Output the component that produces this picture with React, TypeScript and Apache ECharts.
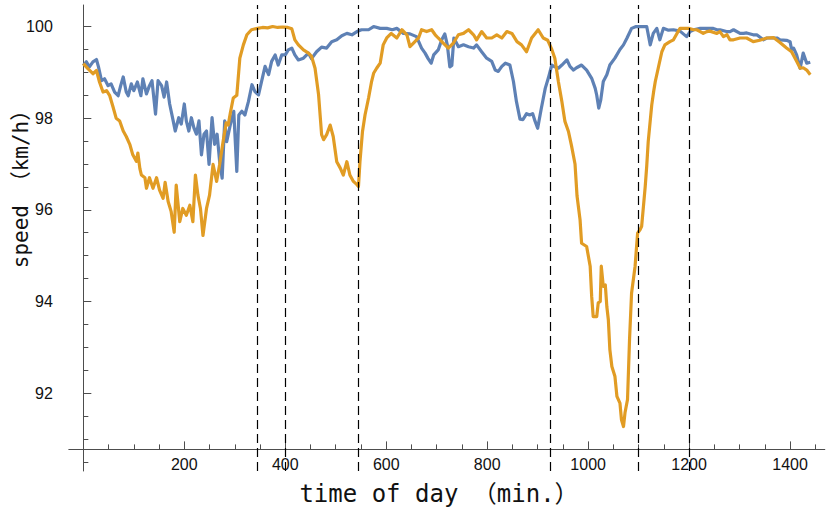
import React, { useEffect, useRef } from "react";
import * as echarts from "echarts";

const xTickLabels = [200, 400, 600, 800, 1000, 1200, 1400];
const xMinorTicks = [50, 100, 150, 250, 300, 350, 450, 500, 550, 650, 700, 750, 850, 900, 950, 1050, 1100, 1150, 1250, 1300, 1350, 1450];
const yTickLabels = [92, 94, 96, 98, 100];
const yMinorTicks = [90.5, 91, 91.5, 92.5, 93, 93.5, 94.5, 95, 95.5, 96.5, 97, 97.5, 98.5, 99, 99.5];
const eventTimes = [345, 400, 545, 925, 1100, 1200];

const xTitle = "time of day （min.）";
const yTitle = "speed （km/h）";

const blueData: [number, number][] = [
  [0, 99.15], [6, 99.23], [12, 99.12], [19, 99.23], [26, 99.28], [30, 99.12], [36, 98.82], [42, 98.86],
  [49, 98.71], [55, 98.75], [62, 98.57], [69, 98.49], [74, 98.71], [79, 98.9], [85, 98.57], [89, 98.49],
  [95, 98.75], [100, 98.6], [107, 98.79], [114, 98.49], [118, 98.86], [125, 98.53], [131, 98.71], [136, 98.82],
  [143, 98.09], [148, 98.82], [155, 98.71], [160, 98.46], [165, 98.79], [171, 98.31], [178, 97.94], [182, 97.72],
  [189, 98.01], [194, 97.87], [200, 98.31], [204, 97.94], [209, 97.72], [214, 98.01], [219, 97.79], [224, 97.65],
  [229, 97.94], [234, 97.2], [239, 97.65], [244, 97.72], [249, 96.99], [255, 98.01], [260, 97.43], [265, 97.65],
  [270, 97.06], [275, 96.69], [280, 97.94], [284, 97.49], [291, 97.85], [298, 98.15], [304, 96.84], [308, 98.07],
  [314, 98.15], [320, 98.07], [327, 98.36], [334, 98.73], [340, 98.58], [347, 98.51], [353, 98.8], [360, 99.13],
  [367, 98.95], [373, 99.24], [380, 99.38], [386, 99.16], [393, 99.38], [400, 99.38], [406, 99.49], [413, 99.53],
  [419, 99.38], [426, 99.27], [436, 99.31], [446, 99.42], [452, 99.3], [462, 99.45], [472, 99.55], [482, 99.53],
  [492, 99.67], [502, 99.71], [512, 99.8], [522, 99.85], [532, 99.82], [542, 99.89], [551, 99.93], [565, 99.93],
  [575, 100.0], [588, 99.96], [601, 99.96], [612, 99.93], [621, 99.96], [634, 99.85], [647, 99.84], [660, 99.78],
  [670, 99.53], [677, 99.42], [683, 99.3], [689, 99.2], [694, 99.38], [703, 99.49], [710, 99.71], [716, 99.84],
  [721, 99.6], [726, 99.12], [730, 99.15], [734, 99.75], [743, 99.56], [753, 99.6], [763, 99.56], [773, 99.53],
  [779, 99.6], [789, 99.45], [799, 99.31], [809, 99.24], [816, 99.05], [822, 99.02], [829, 99.13], [836, 99.2],
  [845, 99.16], [852, 98.8], [858, 98.36], [865, 97.98], [871, 97.97], [878, 98.1], [884, 98.07], [890, 98.1],
  [895, 97.93], [900, 97.78], [907, 98.2], [915, 98.65], [921, 98.87], [928, 99.16], [934, 99.12], [941, 99.09],
  [948, 99.16], [958, 99.27], [964, 99.13], [971, 99.05], [977, 99.1], [987, 99.16], [997, 99.05], [1007, 98.87],
  [1014, 98.65], [1017, 98.5], [1021, 98.22], [1025, 98.4], [1030, 98.8], [1037, 98.95], [1043, 99.16], [1053, 99.31],
  [1063, 99.5], [1070, 99.6], [1077, 99.75], [1086, 99.96], [1095, 100.0], [1105, 100.0], [1116, 100.0], [1123, 99.6],
  [1129, 99.85], [1136, 99.96], [1142, 99.71], [1149, 99.96], [1159, 99.92], [1169, 99.93], [1182, 99.9], [1195, 99.78],
  [1202, 99.89], [1209, 99.93], [1222, 99.96], [1228, 99.96], [1235, 99.96], [1248, 99.96], [1255, 99.93], [1261, 99.93],
  [1274, 99.89], [1281, 99.89], [1288, 99.93], [1301, 99.85], [1308, 99.85], [1314, 99.86], [1327, 99.82], [1334, 99.82],
  [1347, 99.71], [1354, 99.75], [1367, 99.75], [1374, 99.75], [1380, 99.71], [1393, 99.7], [1400, 99.67], [1403, 99.5],
  [1407, 99.53], [1413, 99.38], [1420, 99.09], [1426, 99.42], [1433, 99.2], [1440, 99.22],
];

const orangeData: [number, number][] = [
  [0, 99.19], [9, 99.08], [19, 98.97], [26, 99.04], [32, 98.79], [39, 98.57], [46, 98.6], [52, 98.5],
  [59, 98.24], [65, 98.0], [72, 97.94], [79, 97.72], [85, 97.6], [92, 97.43], [98, 97.2], [105, 97.06],
  [108, 97.24], [112, 96.9], [115, 96.76], [122, 96.7], [125, 96.47], [131, 96.7], [138, 96.47], [145, 96.7],
  [151, 96.43], [158, 96.25], [162, 96.6], [168, 96.18], [174, 95.96], [180, 95.51], [184, 96.54], [191, 95.74],
  [197, 96.03], [204, 95.88], [211, 96.1], [217, 95.74], [222, 96.76], [227, 96.32], [232, 96.03], [237, 95.44],
  [244, 96.03], [250, 96.32], [257, 96.99], [264, 96.62], [270, 96.99], [277, 97.5], [283, 97.9], [287, 97.85],
  [291, 98.1], [297, 98.44], [304, 98.5], [310, 99.31], [317, 99.6], [324, 99.82], [333, 99.93], [345, 99.96],
  [355, 99.98], [365, 99.97], [375, 100.0], [385, 99.98], [395, 99.99], [405, 99.98], [413, 99.95], [419, 99.71],
  [426, 99.6], [436, 99.49], [446, 99.42], [452, 99.35], [459, 99.09], [466, 98.51], [472, 97.64], [476, 97.53],
  [482, 97.64], [489, 97.85], [495, 97.6], [502, 97.05], [509, 96.91], [515, 96.76], [522, 97.05], [528, 96.76],
  [535, 96.62], [542, 96.55], [545, 96.51], [548, 97.05], [553, 97.71], [558, 98.07], [565, 98.44], [571, 98.8],
  [575, 98.98], [581, 99.09], [588, 99.2], [594, 99.6], [601, 99.75], [610, 99.85], [621, 99.75], [631, 99.93],
  [641, 99.82], [647, 99.56], [654, 99.64], [664, 99.75], [670, 99.93], [680, 99.89], [690, 99.93], [697, 99.82],
  [703, 99.75], [713, 99.64], [723, 99.53], [733, 99.64], [743, 99.82], [753, 99.85], [763, 99.93], [773, 99.82],
  [779, 99.71], [789, 99.89], [799, 99.75], [809, 99.75], [819, 99.82], [829, 99.75], [839, 99.89], [849, 99.85],
  [859, 99.67], [868, 99.6], [878, 99.45], [888, 99.75], [901, 99.93], [911, 99.75], [920, 99.7], [928, 99.5],
  [934, 99.31], [941, 98.8], [948, 98.36], [954, 97.93], [961, 97.71], [967, 97.4], [974, 97.0], [978, 96.3],
  [984, 95.78], [987, 95.27], [997, 95.2], [1004, 94.77], [1007, 94.11], [1010, 93.67], [1017, 93.67], [1020, 93.97],
  [1024, 94.0], [1026, 94.77], [1030, 94.33], [1034, 94.36], [1037, 93.89], [1040, 93.6], [1043, 92.95], [1047, 92.58],
  [1053, 92.37], [1057, 91.93], [1063, 91.78], [1066, 91.42], [1070, 91.27], [1073, 91.57], [1078, 91.86], [1082, 93.17],
  [1086, 94.18], [1093, 94.77], [1098, 95.49], [1103, 95.57], [1106, 95.64], [1113, 96.5], [1116, 96.95], [1119, 97.49],
  [1126, 98.29], [1130, 98.6], [1133, 98.8], [1139, 99.1], [1146, 99.45], [1152, 99.6], [1162, 99.67], [1169, 99.71],
  [1176, 99.85], [1182, 99.96], [1190, 99.96], [1199, 99.96], [1209, 99.93], [1215, 99.93], [1222, 99.89], [1228, 99.85],
  [1235, 99.89], [1241, 99.9], [1255, 99.85], [1261, 99.89], [1268, 99.78], [1275, 99.82], [1281, 99.71], [1288, 99.71],
  [1301, 99.75], [1314, 99.75], [1327, 99.67], [1340, 99.7], [1354, 99.75], [1367, 99.76], [1380, 99.65], [1393, 99.53],
  [1403, 99.45], [1413, 99.24], [1420, 99.09], [1426, 99.1], [1433, 99.05], [1440, 98.95],
];

const AXIS_COLOR = "#4d4d4d";
const LABEL_COLOR = "#111";
const TICK_FONT = "'Liberation Sans', Arial, sans-serif";
const TITLE_FONT = "'DejaVu Sans Mono', 'Noto Sans CJK JP', monospace";

export default function App() {
  const ref = useRef<HTMLDivElement>(null);
  useEffect(() => {
    document.body.style.margin = "0";
    if (!ref.current) return;
    const chart = echarts.init(ref.current, undefined, { renderer: "svg" });
    const xAxisOffset = -21.6;
    const plain = (v: number) => String(v);
    const baseX = {
      type: "value",
      min: -28.8,
      max: 1468.8,
      position: "bottom",
      offset: xAxisOffset,
      splitLine: { show: false },
    };
    const baseY = {
      type: "value",
      min: 90.3,
      max: 100.47,
      position: "left",
      splitLine: { show: false },
    };
    chart.setOption({
      animation: false,
      grid: { left: 68.8, top: 5, width: 756, height: 466, containLabel: false, outerBoundsMode: "none" },
      xAxis: [
        {
          ...baseX,
          axisLine: { show: true, onZero: false, lineStyle: { color: AXIS_COLOR, width: 1 } },
          axisTick: { show: true, inside: true, length: 8, customValues: xTickLabels, lineStyle: { color: AXIS_COLOR } },
          axisLabel: { show: true, customValues: xTickLabels, formatter: plain, margin: 7, fontSize: 16, color: LABEL_COLOR, fontFamily: TICK_FONT },
        },
        {
          ...baseX,
          axisLine: { show: false, onZero: false },
          axisTick: { show: true, inside: true, length: 5, customValues: xMinorTicks, lineStyle: { color: AXIS_COLOR } },
          axisLabel: { show: false },
        },
      ],
      yAxis: [
        {
          ...baseY,
          axisLine: { show: true, onZero: true, onZeroAxisIndex: 0, lineStyle: { color: AXIS_COLOR, width: 1 } },
          axisTick: { show: true, inside: true, length: 8, customValues: yTickLabels, lineStyle: { color: AXIS_COLOR } },
          axisLabel: { show: true, customValues: yTickLabels, formatter: plain, margin: 16, fontSize: 16, color: LABEL_COLOR, fontFamily: TICK_FONT },
        },
        {
          ...baseY,
          axisLine: { show: false, onZero: true, onZeroAxisIndex: 0 },
          axisTick: { show: true, inside: true, length: 5, customValues: yMinorTicks, lineStyle: { color: AXIS_COLOR } },
          axisLabel: { show: false },
        },
      ],
      series: [
        {
          type: "line",
          name: "blue",
          data: blueData,
          showSymbol: false,
          z: 2,
          lineStyle: { color: "#5E81B5", width: 3.2, join: "round" },
          itemStyle: { color: "#5E81B5" },
          silent: true,
        },
        {
          type: "line",
          name: "orange",
          data: orangeData,
          showSymbol: false,
          z: 3,
          lineStyle: { color: "#E19C24", width: 3.2, join: "round" },
          itemStyle: { color: "#E19C24" },
          silent: true,
        },
        {
          type: "line",
          name: "events",
          data: [],
          z: 5,
          silent: true,
          markLine: {
            silent: true,
            symbol: ["none", "none"],
            label: { show: false },
            lineStyle: { color: "#000", width: 1.2, type: [9, 5] },
            emphasis: { disabled: true },
            data: eventTimes.map((t) => ({ xAxis: t })),
          },
        },
      ],
      graphic: [
        {
          type: "text",
          x: 439,
          y: 494,
          style: {
            text: xTitle,
            fontSize: 24,
            fontFamily: TITLE_FONT,
            fill: "#111",
            align: "center",
            verticalAlign: "middle",
          },
        },
        {
          type: "text",
          x: 21,
          y: 184,
          rotation: Math.PI / 2,
          style: {
            text: yTitle,
            fontSize: 21,
            fontFamily: TITLE_FONT,
            fill: "#111",
            align: "center",
            verticalAlign: "middle",
          },
        },
      ],
    });
    return () => chart.dispose();
  }, []);
  return <div ref={ref} style={{ width: 830, height: 510 }} />;
}
